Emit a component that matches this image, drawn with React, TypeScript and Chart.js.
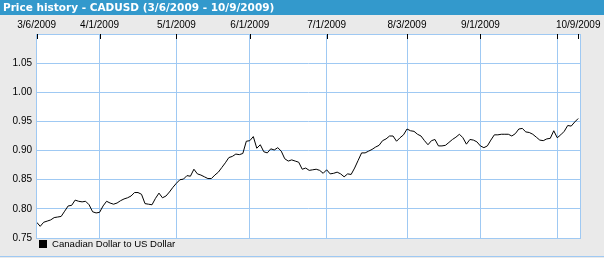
import React, { useEffect, useRef } from 'react';
import { Chart, registerables } from 'chart.js';

Chart.register(...registerables);

const TITLE = 'Price history - CADUSD (3/6/2009 - 10/9/2009)';
const SERIES_LABEL = 'Canadian Dollar to US Dollar';

// x positions are trading-day indices (0 = 3/6/2009, 155 = 10/9/2009)
const X_TICK_INDEX = [0, 18, 40, 61, 83, 106, 127, 149, 155];
const X_TICK_LABELS = ['3/6/2009', '4/1/2009', '5/1/2009', '6/1/2009', '7/1/2009', '8/3/2009', '9/1/2009', '', '10/9/2009'];
const X_GRID_HIDDEN = [155];

const Y_TICKS = [0.75, 0.8, 0.85, 0.9, 0.95, 1.0, 1.05];
const Y_MIN = 0.75;
const Y_MAX = 1.1;

const RATES = [
  0.777, 0.770, 0.777, 0.779, 0.781, 0.785, 0.786, 0.787, 0.796, 0.805,
  0.806, 0.815, 0.813, 0.812, 0.813, 0.807, 0.795, 0.793, 0.794, 0.805,
  0.813, 0.810, 0.808, 0.810, 0.814, 0.817, 0.819, 0.822, 0.828, 0.828,
  0.825, 0.809, 0.808, 0.807, 0.818, 0.827, 0.819, 0.822, 0.829, 0.837,
  0.844, 0.850, 0.851, 0.857, 0.856, 0.868, 0.860, 0.858, 0.855, 0.852,
  0.852, 0.858, 0.863, 0.871, 0.879, 0.888, 0.890, 0.894, 0.893, 0.895,
  0.916, 0.917, 0.924, 0.904, 0.910, 0.898, 0.896, 0.903, 0.901, 0.905,
  0.899, 0.886, 0.882, 0.884, 0.882, 0.880, 0.868, 0.870, 0.866, 0.867,
  0.868, 0.866, 0.861, 0.867, 0.860, 0.861, 0.863, 0.860, 0.855, 0.860,
  0.859, 0.870, 0.883, 0.896, 0.896, 0.899, 0.902, 0.906, 0.909, 0.917,
  0.920, 0.925, 0.925, 0.916, 0.922, 0.927, 0.937, 0.934, 0.933, 0.928,
  0.925, 0.917, 0.910, 0.917, 0.919, 0.908, 0.908, 0.909, 0.914, 0.919,
  0.923, 0.928, 0.922, 0.911, 0.919, 0.918, 0.915, 0.908, 0.905, 0.908,
  0.918, 0.927, 0.927, 0.928, 0.928, 0.928, 0.925, 0.929, 0.937, 0.938,
  0.932, 0.931, 0.928, 0.923, 0.918, 0.917, 0.920, 0.921, 0.934, 0.922,
  0.927, 0.933, 0.943, 0.942, 0.949, 0.955,
];

const BG = '#eaeaea';
const TITLE_BG = '#3399cc';
const GRID = '#9fc9f3';
const TICK_FONT = { family: '"Liberation Sans", Arial, sans-serif', size: 10 };

const framePlugin = {
  id: 'frame',
  beforeDraw(chart: any) {
    const { ctx, width, height, chartArea } = chart;
    ctx.save();
    ctx.fillStyle = BG;
    ctx.fillRect(0, 0, width, height);
    ctx.fillStyle = TITLE_BG;
    ctx.fillRect(0, 0, width, 15);
    ctx.fillStyle = '#ffffff';
    ctx.font = 'bold 10.5px "DejaVu Sans", Verdana, sans-serif';
    ctx.textBaseline = 'alphabetic';
    ctx.textAlign = 'left';
    ctx.fillText(TITLE, 3, 11);
    ctx.fillStyle = '#ffffff';
    ctx.fillRect(chartArea.left, chartArea.top, chartArea.right - chartArea.left, chartArea.bottom - chartArea.top);
    ctx.strokeStyle = GRID;
    ctx.lineWidth = 1;
    ctx.beginPath();
    ctx.moveTo(0, height - 1.5);
    ctx.lineTo(width, height - 1.5);
    ctx.stroke();
    ctx.restore();
  },
  afterDraw(chart: any) {
    const { ctx, chartArea } = chart;
    const xs = chart.scales.x;
    ctx.save();
    ctx.strokeStyle = GRID;
    ctx.lineWidth = 1;
    ctx.strokeRect(chartArea.left + 0.5, chartArea.top + 0.5, chartArea.right - chartArea.left - 1, chartArea.bottom - chartArea.top);
    ctx.strokeStyle = '#000000';
    ctx.beginPath();
    X_TICK_INDEX.forEach((v) => {
      const px = Math.round(xs.getPixelForValue(v)) + 0.5;
      ctx.moveTo(px, chartArea.top);
      ctx.lineTo(px, chartArea.top + 5);
    });
    ctx.stroke();
    // legend
    ctx.fillStyle = '#000000';
    ctx.fillRect(39, 240, 8, 8);
    ctx.font = '9.6px "Liberation Sans", Arial, sans-serif';
    ctx.textBaseline = 'alphabetic';
    ctx.textAlign = 'left';
    ctx.fillText(SERIES_LABEL, 52, 247);
    ctx.restore();
  },
};

export default function App() {
  const ref = useRef<HTMLCanvasElement | null>(null);
  useEffect(() => {
    if (!ref.current) return;
    const data = RATES.map((v, i) => ({ x: i, y: v }));
    const chart = new Chart(ref.current, {
      type: 'line',
      data: {
        datasets: [
          {
            label: SERIES_LABEL,
            data,
            borderColor: '#000000',
            borderWidth: 1,
            pointRadius: 0,
            tension: 0,
            fill: false,
          },
        ],
      },
      options: {
        animation: false,
        responsive: false,
        devicePixelRatio: 1,
        layout: { padding: { left: 0, top: 0, right: 23, bottom: 20 } },
        plugins: { legend: { display: false }, title: { display: false }, tooltip: { enabled: false } },
        scales: {
          x: {
            type: 'linear',
            position: 'top',
            min: -0.2,
            max: 155.8,
            afterBuildTicks: (s: any) => {
              s.ticks = X_TICK_INDEX.map((v) => ({ value: v }));
            },
            afterFit: (s: any) => {
              s.height = 34;
            },
            ticks: {
              autoSkip: false,
              maxRotation: 0,
              padding: 3,
              color: '#000000',
              font: TICK_FONT,
              callback: (v: any) => {
                const k = X_TICK_INDEX.indexOf(Number(v));
                return k >= 0 ? X_TICK_LABELS[k] : '';
              },
            },
            grid: {
              drawTicks: false,
              color: (c: any) => (c.tick && X_GRID_HIDDEN.includes(c.tick.value) ? 'rgba(0,0,0,0)' : GRID),
            },
            border: { display: false },
          },
          y: {
            type: 'linear',
            min: Y_MIN,
            max: Y_MAX,
            afterBuildTicks: (s: any) => {
              s.ticks = Y_TICKS.map((v) => ({ value: v }));
            },
            afterFit: (s: any) => {
              s.width = 36;
            },
            ticks: {
              padding: 4,
              color: '#000000',
              font: TICK_FONT,
              callback: (v: any) => Number(v).toFixed(2),
            },
            grid: { drawTicks: false, color: GRID },
            border: { display: false },
          },
        },
      },
      plugins: [framePlugin],
    });
    return () => chart.destroy();
  }, []);
  return (
    <div style={{ position: 'absolute', left: 0, top: 0, width: 604, height: 258 }}>
      <canvas ref={ref} width={604} height={258} style={{ display: 'block', width: 604, height: 258 }} />
    </div>
  );
}
